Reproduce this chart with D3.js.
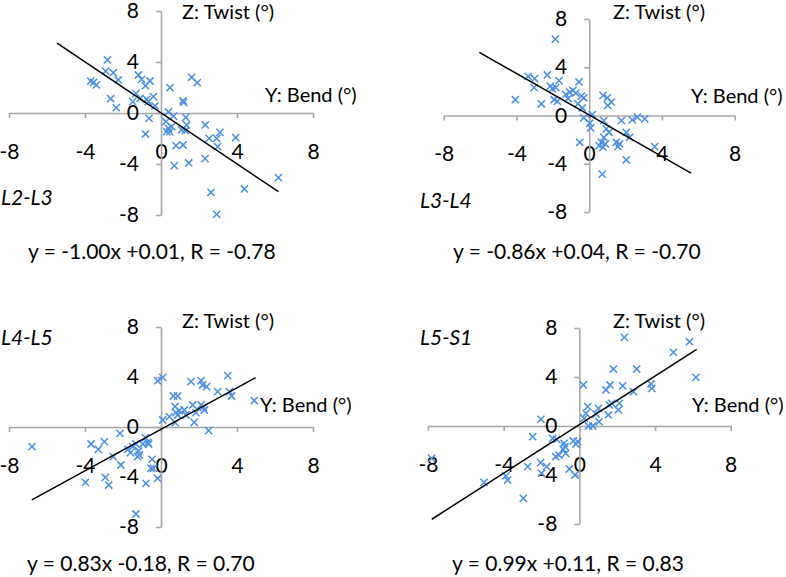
<!DOCTYPE html>
<html><head><meta charset="utf-8">
<script src="https://cdn.jsdelivr.net/npm/d3@7"></script>
<style>body{margin:0;background:#fff}svg{display:block}text{font-family:Lato,sans-serif;fill:#000}</style>
</head><body>
<svg id="c" width="786" height="577"></svg>
<script>
const panelNames = ["L2-L3", "L3-L4", "L4-L5", "L5-S1"];
const tickValues = [-8, -4, 0, 4, 8];
const xAxisTitle = "Y: Bend (°)";
const yAxisTitle = "Z: Twist (°)";
const slopes = [-1.00, -0.86, 0.83, 0.99];
const intercepts = [0.01, 0.04, -0.18, 0.11];
const rValues = [-0.78, -0.70, 0.70, 0.83];
const fitXStart = [-5.47, -6.04, -6.8, -7.8];
const fitXEnd = [6.18, 5.6, 4.98, 6.2];

const bendL2L3 = [-2.82,-2.91,-2.51,-2.25,-3.7,-3.55,-3.4,-2.65,-2.35,-1.19,-1.02,-0.58,-0.82,-1.32,-1.49,-1.1,-0.75,-0.4,-0.67,-0.32,-0.63,-0.82,0.47,1.61,1.91,1.16,1.19,0.39,0.65,0.26,0.39,0.47,0.3,0.56,1.09,1.3,1.35,1.28,0.79,1.16,0.7,1.46,2.33,3.1,2.53,2.93,2.98,3.93,2.32,2.63,2.93,4.39,6.18];
const twistL2L3 = [4.16,3.29,3.16,2.59,2.5,2.4,2.2,1.12,0.42,2.98,2.64,2.51,2.14,1.54,0.89,1.15,1.07,1.28,0.89,0.55,-0.42,-1.65,1.99,2.8,2.38,0.97,0.84,0.08,-0.24,-0.68,-1.2,-1.46,-1.46,-1.07,-1.33,-0.34,-0.94,-1.39,-2.56,-2.51,-4.13,-3.92,-0.94,-1.52,-1.99,-1.99,-2.64,-1.93,-3.58,-6.22,-7.95,-5.96,-5.07];

const bendL3L4 = [-1.86,-4.06,-2.63,-3.36,-3.0,-3.03,-2.3,-1.66,-2.14,-2.03,-1.84,-1.93,-1.75,-1.29,-1.07,-0.89,-0.74,-0.56,-1.16,-0.43,-0.3,-0.62,-0.38,-0.3,-0.52,0.17,0.03,0.08,0.76,1.0,1.22,1.02,0.8,0.94,1.09,0.8,0.67,0.54,0.76,0.89,0.72,1.49,1.67,1.58,1.77,2.04,2.22,2.04,2.37,2.65,3.05,3.6];
const twistL3L4 = [6.33,1.31,0.97,3.25,3.06,2.31,3.36,2.89,2.44,2.22,2.31,1.31,1.17,1.75,1.94,2.08,1.86,2.78,1.39,1.61,1.47,0.97,0.64,-0.19,-2.22,0.08,-0.64,-1.03,1.67,1.47,1.11,0.83,-0.42,-1.11,-1.39,-1.81,-2.22,-2.5,-2.64,-2.36,-4.86,-2.22,-2.36,-2.58,-0.42,-1.39,-1.81,-3.67,-0.36,-0.14,-0.28,-2.58];

const bendL4L5 = [-6.79,-3.68,-3.3,-2.98,-3.98,-2.93,-2.75,-2.51,-2.11,-2.16,-1.75,-1.61,-1.49,-1.32,-1.18,-1.23,-1.14,-0.96,-0.82,-0.7,-0.65,-0.79,-0.47,-0.53,-0.4,-0.18,-1.32,-0.18,0.09,0.09,0.44,0.65,0.88,0.74,0.79,0.96,0.88,0.75,1.23,1.32,1.58,2.11,2.19,2.4,1.67,1.84,1.75,2.11,2.28,2.23,2.51,2.98,3.51,3.6,3.72,4.91];
const twistL4L5 = [-1.57,-1.36,-1.79,-1.17,-4.43,-4.03,-4.64,-2.37,-3.04,-0.51,-1.79,-2.05,-1.57,-1.36,-1.92,-2.37,-2.24,-1.36,-0.85,-1.23,-1.36,-4.51,-2.59,-3.31,-3.31,-4.11,-6.96,3.71,3.97,0.56,0.83,2.48,2.48,1.63,1.15,1.31,0.96,0.35,1.36,0.96,3.63,3.71,3.36,3.23,1.76,1.15,0.37,1.76,1.36,1.57,-0.29,2.83,4.11,2.83,2.48,2.11];

const bendL5S1 = [-7.81,-5.04,-3.88,-3.79,-2.96,-2.73,-2.47,-2.03,-2.05,-2.0,-1.73,-1.41,-1.2,-1.25,-1.08,-0.81,-0.76,-0.72,-0.85,-0.53,-0.32,-0.18,-0.09,-0.23,0.21,0.25,0.35,0.44,0.48,0.71,0.88,1.01,1.04,1.41,1.53,1.62,1.59,1.71,1.8,2.06,2.12,2.29,2.38,2.86,3.03,3.79,3.83,4.97,5.82,6.16];
const twistL5S1 = [-2.64,-4.6,-4.08,-4.41,-5.9,-3.32,-0.87,0.54,-2.99,-3.86,-3.32,-1.01,-1.09,-2.5,-2.37,-1.41,-1.69,-2.23,-1.9,-3.51,-1.22,-1.47,-1.28,-4.0,3.35,0.63,1.03,1.58,0.0,0.0,0.98,1.44,0.35,2.94,0.9,3.35,1.71,1.85,4.65,1.31,1.85,3.27,7.24,2.8,4.65,3.43,3.07,6.01,6.88,3.97];

const bendSeries = [bendL2L3, bendL3L4, bendL4L5, bendL5S1];
const twistSeries = [twistL2L3, twistL3L4, twistL4L5, twistL5S1];

// layout (pixel geometry of each panel)
const layout = [
  {x:[9,313],   y:[215,11],  eq:[28,251],  name:[1,197],   zt:[182,12],  yt:[265,95]},
  {x:[443.7,734.7], y:[212,19], eq:[453,251], name:[420,200], zt:[613,12], yt:[691,96]},
  {x:[9,313],   y:[527,327], eq:[27,563],  name:[1,337],   zt:[182,321], yt:[260,405]},
  {x:[428,730.7], y:[524,328], eq:[452,563], name:[420,337], zt:[613,321], yt:[692,405]}
];

const fmt = v => (v < 0 ? "-" : "") + Math.abs(v).toFixed(2);
const fmtSigned = v => (v < 0 ? "-" : "+") + Math.abs(v).toFixed(2);

const svg = d3.select("#c");
const axisColor = "#a6a6a6";
const markColor = "#4a8fe3";
const FS = 21;
const TS = 20;

panelNames.forEach((name, i) => {
  const L = layout[i];
  const x = d3.scaleLinear().domain([-8, 8]).range(L.x);
  const y = d3.scaleLinear().domain([-8, 8]).range(L.y);
  const g = svg.append("g");

  const xa = g.append("g").attr("transform", `translate(0,${y(0)})`)
    .call(d3.axisBottom(x).tickValues(tickValues).tickSize(5).tickSizeOuter(0).tickPadding(26));
  const ya = g.append("g").attr("transform", `translate(${x(0)},0)`)
    .call(d3.axisLeft(y).tickValues(tickValues).tickSize(5).tickSizeOuter(0).tickPadding(17));
  [xa, ya].forEach(a => {
    a.select(".domain").attr("stroke", axisColor).attr("stroke-width", 1.6);
    a.selectAll(".tick line").attr("stroke", axisColor).attr("stroke-width", 1.6);
    a.selectAll(".tick text").attr("fill", "#000").style("font-size", FS + "px").style("font-family", "Lato, sans-serif")
      .text(d => d < 0 ? "-" + Math.abs(d) : d);
  });

  const pts = bendSeries[i].map((b, k) => [b, twistSeries[i][k]]);
  const s = 3.6;
  g.append("g").selectAll("path").data(pts).join("path")
    .attr("d", d => `M${x(d[0])-s},${y(d[1])-s}L${x(d[0])+s},${y(d[1])+s}M${x(d[0])-s},${y(d[1])+s}L${x(d[0])+s},${y(d[1])-s}`)
    .attr("stroke", markColor).attr("stroke-width", 1.5).attr("fill", "none");

  const fx = [fitXStart[i], fitXEnd[i]];
  g.append("line")
    .attr("x1", x(fx[0])).attr("y1", y(slopes[i]*fx[0] + intercepts[i]))
    .attr("x2", x(fx[1])).attr("y2", y(slopes[i]*fx[1] + intercepts[i]))
    .attr("stroke", "#000").attr("stroke-width", 1.5);

  g.append("text").attr("x", L.zt[0]).attr("y", L.zt[1]).attr("dy", "0.36em")
    .style("font-size", TS + "px").text(yAxisTitle);
  g.append("text").attr("x", L.yt[0]).attr("y", L.yt[1]).attr("dy", "0.36em")
    .style("font-size", TS + "px").text(xAxisTitle);
  g.append("text").attr("x", L.name[0]).attr("y", L.name[1]).attr("dy", "0.36em")
    .style("font-size", FS + "px").style("font-style", "italic").text(name);
  g.append("text").attr("x", L.eq[0]).attr("y", L.eq[1]).attr("dy", "0.36em")
    .style("font-size", "21px")
    .text(`y = ${fmt(slopes[i])}x ${fmtSigned(intercepts[i])}, R = ${fmt(rValues[i])}`);
});
</script>
</body></html>
